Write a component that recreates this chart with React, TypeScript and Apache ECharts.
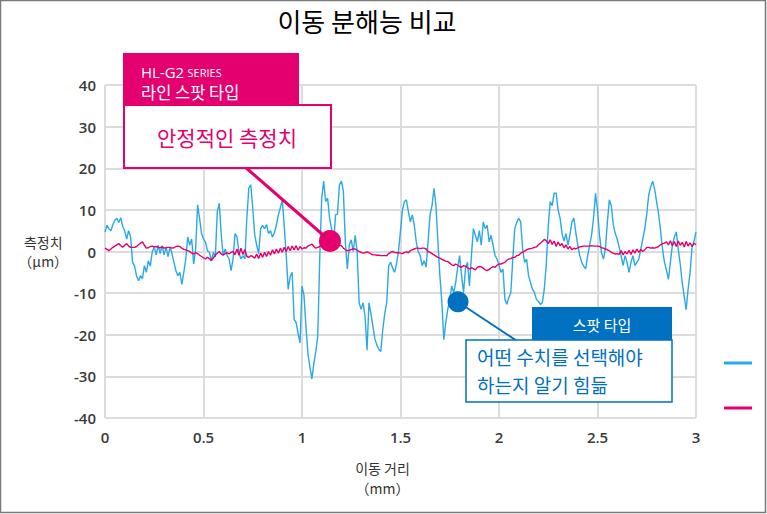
import React, { useEffect, useRef } from "react";
import * as echarts from "echarts";

const chartTitle = "이동 분해능 비교";
const xAxisName = "이동 거리\n（mm）";
const yAxisName = "측정치\n（μm）";
const seriesNames = ["스팟 타입", "HL-G2 SERIES 라인 스팟 타입"];
const xTickStep = 0.5;
const yRange = [-40, 40];
const yTickStep = 10;
const sampleStep = 0.01; // mm between samples

// Spot type (blue) – measured displacement, µm, every 0.01 mm from 0 to 3 mm
const spotType = [
  4.7, 6.3, 5.5, 5.0, 6.5, 7.5, 8.0, 7.0, 8.1, 6.0,
  5.0, 3.0, 5.0, 3.5, -2.6, -3.5, -5.8, -7.0, -5.8, -6.5,
  -3.4, -5.0, -2.2, -3.5, 0.0, 1.0, -0.8, 1.5, -0.5, 1.4,
  -0.8, 1.0, -1.2, 1.0, -0.5, -2.6, -4.6, -5.8, -5.0, -7.9,
  -5.0, -1.8, 3.5, 1.5, 3.0, -3.0, 0.5, 11.2, 8.0, 4.3,
  3.0, 2.2, 0.2, -0.2, -2.2, -0.2, -1.4, 9.6, 11.6, 4.0,
  -1.0, 0.6, -1.0, -1.8, -4.6, -1.8, 4.3, 3.5, -0.2, -1.8,
  -1.0, -1.8, 8.0, 15.2, 16.0, 10.4, 4.0, 1.5, -0.5, 5.5,
  6.3, 5.5, 6.5, 4.3, 5.0, 3.5, 4.5, 6.3, 8.8, 10.5,
  12.4, 6.0, -1.0, -9.1, -6.0, -5.0, -16.4, -17.0, -19.6, -22.0,
  -8.3, -10.5, -18.0, -24.5, -27.7, -30.6, -27.0, -24.0, -20.4, -1.8,
  12.8, 16.9, 12.0, 12.8, 8.0, 5.5, 1.0, 8.8, 9.0, 16.0,
  16.9, 14.5, 2.3, -4.2, 1.5, 2.8, 0.0, 3.9, 0.0, -12.3,
  -13.9, -12.3, -15.5, -23.7, -12.3, -15.0, -18.0, -21.0, -22.5, -23.5,
  -24.0, -18.8, -15.0, -12.3, -3.4, -2.6, -4.0, -5.0, -3.0, 0.2,
  5.0, 10.0, 12.0, 12.4, 9.6, 7.1, 8.8, 6.3, 2.3, 0.0,
  -1.0, -3.4, -2.2, -3.8, 2.3, 8.8, 11.0, 15.2, 11.0, 2.3,
  -5.8, -12.3, -21.2, -17.0, -13.9, -11.5, -8.3, -9.9, -7.5, -4.0,
  -1.0, -5.8, -9.9, -4.0, -2.6, -8.3, -1.0, 5.5, 3.9, 2.3,
  5.0, 1.5, 7.1, 5.5, 6.3, 2.3, 3.9, 1.5, -1.0, -1.8,
  -3.4, -5.0, -4.2, -11.5, -12.7, -11.0, -9.9, -1.8, 5.5, 7.0,
  8.0, 7.1, 0.6, -2.6, -1.8, -5.8, -7.5, -9.1, -9.9, -11.5,
  -12.0, -12.7, -12.3, -9.0, -3.0, 6.0, 12.0, 11.0, 14.0, 14.0,
  10.0, 8.0, 4.3, 2.5, 4.3, 1.5, 4.0, 7.1, 8.0, 4.5,
  1.5, -1.0, -2.6, -3.5, -4.2, -1.0, 1.5, 4.0, 8.0, 14.0,
  10.0, 4.0, -0.2, -1.8, 0.6, 7.0, 12.4, 11.0, 6.5, 4.3,
  3.0, 1.0, -1.0, -3.4, -1.0, -2.6, -5.0, -2.6, -1.0, -3.4,
  -2.6, -1.8, 0.6, 3.0, 5.5, 9.0, 13.6, 15.5, 16.9, 15.0,
  12.0, 9.0, 5.0, 0.6, -2.6, -4.5, -6.7, -2.6, 1.5, 3.5,
  4.7, 0.5, -3.0, -7.5, -10.7, -14.0, -9.0, -5.0, 1.0, 2.5,
  4.7,
];

// HL-G2 line spot type (magenta)
const lineSpotType = [
  0.8, 0.5, 0.2, 0.6, 1.0, 1.3, 1.6, 1.9, 1.4, 1.0,
  1.5, 1.9, 1.3, 1.0, 1.0, 1.0, 1.2, 1.6, 2.0, 2.3,
  1.5, 0.8, 0.9, 1.2, 1.3, 1.1, 1.2, 1.0, 0.9, 1.1,
  0.8, 0.9, 1.0, 1.0, 0.8, 0.9, 1.2, 1.3, 1.2, 0.8,
  0.5, 0.4, 0.2, 0.0, -0.4, -0.6, -0.3, -0.5, -0.9, -1.2,
  -1.5, -1.8, -1.4, -1.7, -2.2, -1.5, -0.9, -0.4, 0.0, -0.6,
  -0.8, -0.5, -0.3, -0.6, -0.2, 0.0, -0.8, 0.6, -0.9, 0.8,
  -0.7, 0.5, -1.2, -1.4, -1.0, -1.2, -1.6, -0.6, -1.7, -0.4,
  -1.4, -0.2, -1.2, 0.0, -0.9, 0.4, -0.6, 0.6, -0.4, 0.8,
  -0.2, 1.0, 0.0, 1.2, 0.2, 1.3, 0.4, 1.4, 0.3, 1.2,
  0.6, 0.9, 0.8, 1.3, 1.5, 1.8, 1.2, 0.8, 1.0, 1.2,
  1.5, 1.4, 1.6, 1.8, 2.0, 1.8, 1.6, 1.5, 1.3, 1.5,
  1.4, 0.8, 0.4, 0.2, 0.2, 0.5, 0.6, 0.6, 0.3, 0.0,
  -0.2, -0.4, -0.3, -0.1, -0.3, -0.6, -0.8, -0.8, -0.9, -0.9,
  -1.0, -1.0, -1.0, -1.0, -0.5, -0.2, 0.0, -0.2, -0.3, -0.3,
  -0.4, -0.5, -0.2, -0.1, -0.3, 0.2, 0.4, 0.6, 0.8, 0.8,
  0.7, 0.8, 0.8, 0.6, 0.0, -0.2, -0.5, -0.8, -1.1, -1.4,
  -1.6, -1.9, -2.1, -2.3, -2.4, -2.8, -3.2, -3.4, -3.0, -3.3,
  -3.6, -3.8, -3.4, -3.5, -3.9, -4.2, -3.9, -4.1, -4.4, -3.8,
  -3.6, -3.7, -4.0, -4.4, -4.6, -4.3, -3.9, -3.6, -3.8, -3.3,
  -3.0, -3.0, -2.8, -2.6, -2.1, -1.8, -1.7, -1.4, -1.4, -1.0,
  -0.9, -0.4, -0.2, 0.1, 0.4, 0.6, 0.7, 0.8, 1.0, 1.1,
  1.6, 2.0, 2.4, 2.9, 2.6, 1.9, 2.8, 1.7, 2.5, 1.2,
  2.3, 1.4, 1.9, 0.9, 1.6, 0.6, 1.2, 0.4, 0.8, 0.6,
  0.9, 1.1, 1.2, 1.3, 1.3, 1.3, 1.3, 1.4, 1.3, 1.3,
  1.3, 1.2, 0.9, 0.8, 0.6, 0.4, 0.2, -0.2, -0.4, -0.6,
  -0.5, -0.7, 0.2, -0.8, 0.0, -0.6, 0.3, -0.7, 0.4, -0.4,
  0.6, -0.2, 0.5, 0.0, 0.4, 1.0, 1.0, 0.8, 0.9, 0.8,
  1.0, 1.2, 1.6, 1.9, 2.0, 2.3, 1.6, 2.6, 1.4, 2.4,
  1.2, 2.5, 1.5, 2.2, 1.1, 2.4, 1.3, 2.1, 1.2, 2.0,
  1.6,
];

// Callout anchor points (data coordinates: mm, µm)
const stablePoint = [1.142, 2.5];
const spotPoint = [1.792, -12.1];

const BLUE = "#2aa9e6";
const DARK_BLUE = "#0070c0";
const MAGENTA = "#e4006e";
const KR = '"Noto Sans CJK KR", "Noto Sans", sans-serif';
const NUM = '"Open Sans", "Noto Sans", sans-serif';

export default function App() {
  const ref = useRef<HTMLDivElement>(null);

  useEffect(() => {
    if (!ref.current) return;
    const chart = echarts.init(ref.current, undefined, { renderer: "svg" });
    const toPairs = (arr: number[]) =>
      arr.map((v, i) => [Number((i * sampleStep).toFixed(2)), v]);

    chart.setOption({
      animation: false,
      backgroundColor: "#ffffff",
      textStyle: { fontFamily: KR },
      title: {
        text: chartTitle,
        left: 362,
        top: 2,
        textAlign: "center",
        textStyle: { fontSize: 26, fontWeight: "normal", color: "#000", fontFamily: KR },
      },
      grid: { left: 105, right: 71, top: 85, bottom: 96, containLabel: false },
      xAxis: {
        type: "value",
        min: 0,
        max: 3,
        interval: xTickStep,
        name: xAxisName,
        nameLocation: "middle",
        nameGap: 40,
        nameTextStyle: { fontSize: 14, lineHeight: 20, color: "#333", fontFamily: KR, padding: [0, 36, 0, 0] },
        axisLine: { show: false },
        axisTick: { show: false },
        axisLabel: { fontSize: 15, fontWeight: 600, color: "#3a3a3a", fontFamily: NUM, margin: 11 },
        splitLine: { show: true, lineStyle: { color: "#dcdcdc", width: 2 } },
      },
      yAxis: {
        type: "value",
        min: yRange[0],
        max: yRange[1],
        interval: yTickStep,
        name: yAxisName,
        nameLocation: "middle",
        nameRotate: 0,
        nameGap: 60,
        nameTextStyle: { fontSize: 14, lineHeight: 19, color: "#333", fontFamily: KR, align: "center", verticalAlign: "middle" },
        axisLine: { show: false },
        axisTick: { show: false },
        axisLabel: { fontSize: 15, fontWeight: 600, color: "#3a3a3a", fontFamily: NUM, margin: 9 },
        splitLine: { show: true, lineStyle: { color: "#dcdcdc", width: 2 } },
      },
      series: [
        {
          name: seriesNames[0],
          type: "line",
          data: toPairs(spotType),
          showSymbol: false,
          symbol: "none",
          lineStyle: { color: BLUE, width: 1.4 },
          itemStyle: { color: BLUE },
          z: 2,
          markPoint: {
            symbol: "circle",
            symbolSize: 21,
            label: { show: false },
            itemStyle: { color: DARK_BLUE },
            data: [{ coord: spotPoint }],
          },
        },
        {
          name: seriesNames[1],
          type: "line",
          data: toPairs(lineSpotType),
          showSymbol: false,
          symbol: "none",
          lineStyle: { color: MAGENTA, width: 1.4 },
          itemStyle: { color: MAGENTA },
          z: 3,
          markPoint: {
            symbol: "circle",
            symbolSize: 22,
            label: { show: false },
            itemStyle: { color: MAGENTA },
            data: [{ coord: stablePoint }],
          },
        },
      ],
      graphic: [
        { type: "rect", z: 100, silent: true, shape: { x: 0.5, y: 0.5, width: 765, height: 512 }, style: { fill: "none", stroke: "#7a7a7a", lineWidth: 1.5 } },
        // magenta callout
        { type: "line", z: 100, shape: { x1: 244, y1: 166, x2: 330, y2: 241 }, style: { stroke: MAGENTA, lineWidth: 3 } },
        { type: "rect", z: 101, shape: { x: 123, y: 53, width: 176, height: 52 }, style: { fill: MAGENTA } },
        {
          type: "text", z: 102, x: 141, y: 69.5,
          style: {
            text: "{a|HL-G2} {b|SERIES}",
            verticalAlign: "middle",
            rich: {
              a: { fontSize: 15, fill: "#fff", fontFamily: NUM, lineHeight: 19, verticalAlign: "bottom" },
              b: { fontSize: 11, fill: "#fff", fontFamily: NUM, lineHeight: 14, verticalAlign: "bottom", padding: [0, 0, 1, 0] },
            },
          },
        },
        { type: "text", z: 102, x: 141, y: 92.4, style: { text: "라인 스팟 타입", fill: "#fff", fontSize: 16.5, fontFamily: KR, verticalAlign: "middle" } },
        { type: "rect", z: 101, shape: { x: 124, y: 105, width: 207, height: 63 }, style: { fill: "#fff", stroke: MAGENTA, lineWidth: 2 } },
        { type: "text", z: 102, x: 227, y: 137, style: { text: "안정적인 측정치", fill: MAGENTA, fontSize: 21, fontFamily: KR, align: "center", verticalAlign: "middle" } },
        // blue callout
        { type: "line", z: 100, shape: { x1: 458, y1: 302, x2: 517, y2: 341 }, style: { stroke: DARK_BLUE, lineWidth: 2 } },
        { type: "rect", z: 101, shape: { x: 532, y: 307, width: 140, height: 33 }, style: { fill: DARK_BLUE } },
        { type: "text", z: 102, x: 602, y: 324, style: { text: "스팟 타입", fill: "#fff", fontSize: 15, fontFamily: KR, align: "center", verticalAlign: "middle" } },
        { type: "rect", z: 101, shape: { x: 466, y: 340, width: 206, height: 62 }, style: { fill: "#fff", stroke: DARK_BLUE, lineWidth: 1.5 } },
        { type: "text", z: 102, x: 477, y: 356, style: { text: "어떤 수치를 선택해야", fill: DARK_BLUE, fontSize: 19, fontFamily: KR, verticalAlign: "middle" } },
        { type: "text", z: 102, x: 477, y: 384, style: { text: "하는지 알기 힘듦", fill: DARK_BLUE, fontSize: 19, fontFamily: KR, verticalAlign: "middle" } },
        // legend swatches
        { type: "line", z: 100, shape: { x1: 724, y1: 363, x2: 752, y2: 363 }, style: { stroke: BLUE, lineWidth: 3 } },
        { type: "line", z: 100, shape: { x1: 724, y1: 408, x2: 752, y2: 408 }, style: { stroke: MAGENTA, lineWidth: 3 } },
      ],
    });

    return () => chart.dispose();
  }, []);

  return (
    <div
      ref={ref}
      style={{ position: "fixed", left: 0, top: 0, width: 767, height: 514, background: "#fff" }}
    />
  );
}
